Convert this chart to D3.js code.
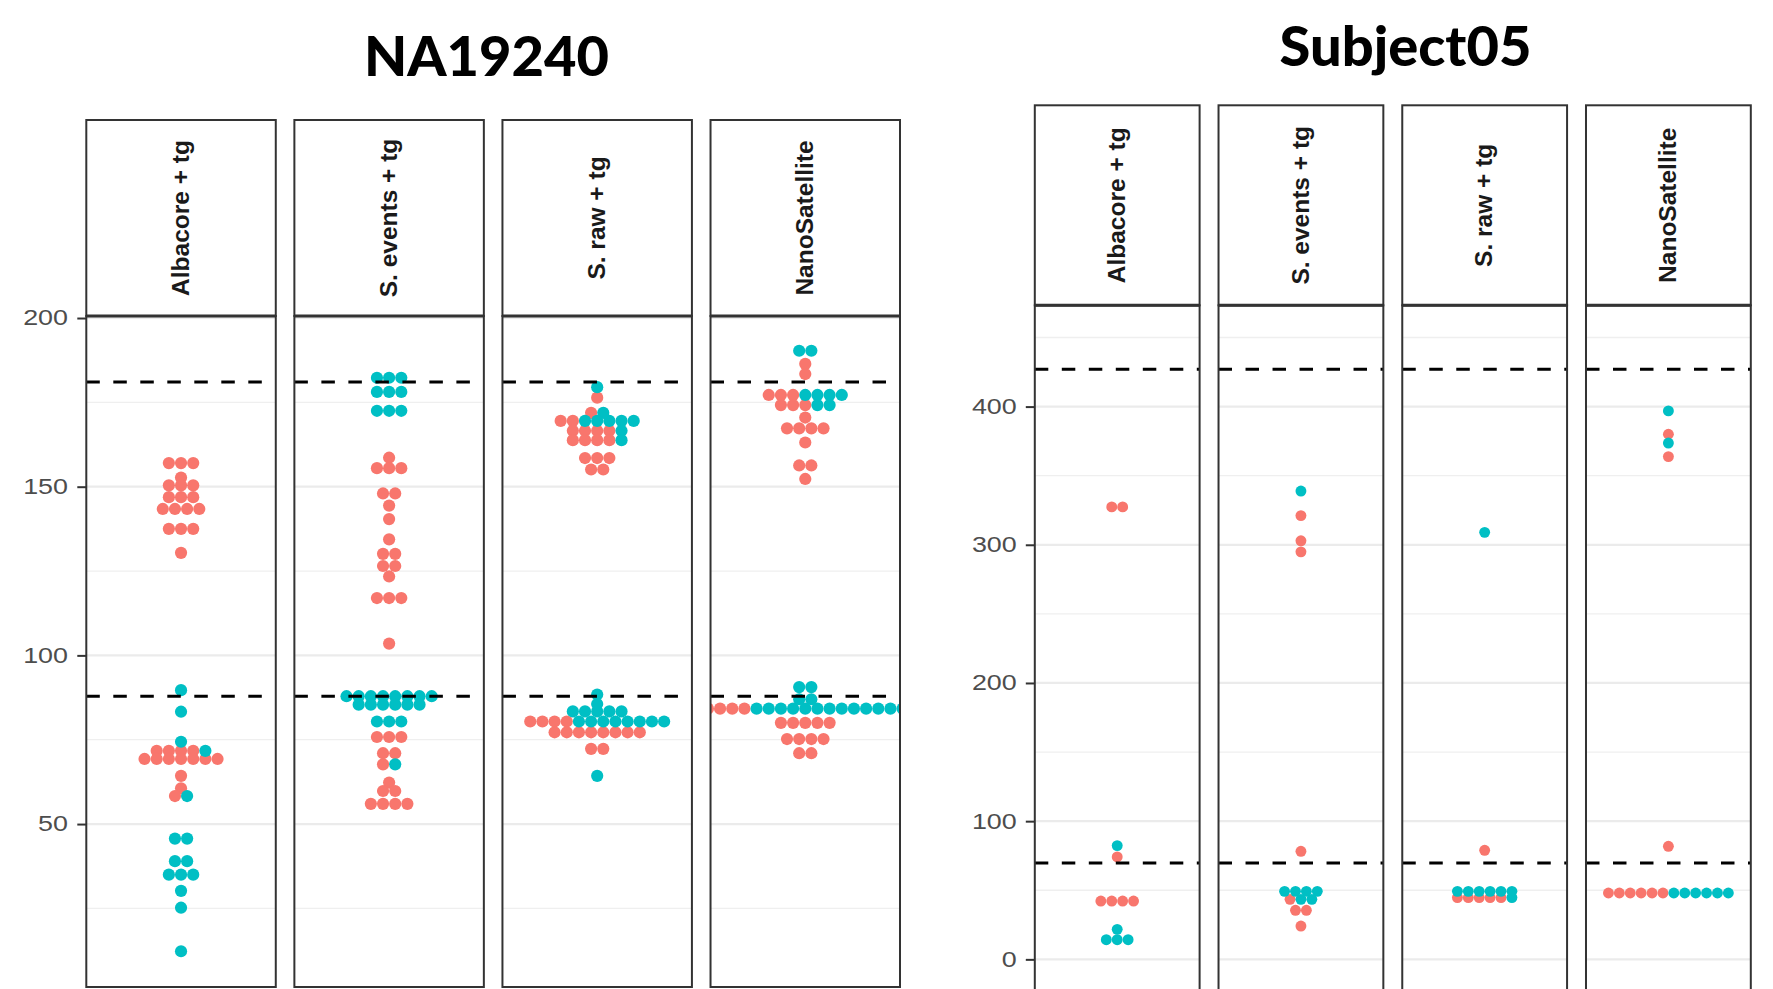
<!DOCTYPE html>
<html>
<head>
<meta charset="utf-8">
<script src="https://cdn.jsdelivr.net/npm/d3@7"></script>
<style>
  body { margin: 0; background: #fff; }
  svg { display: block; }
</style>
</head>
<body>
<svg id="chart" width="1773" height="989"></svg>
<script>
// Facet labels (genotyping method)
const methods = ["Albacore + tg", "S. events + tg", "S. raw + tg", "NanoSatellite"];

// Sample titles
const sampleNames = ["NA19240", "Subject05"];

// NA19240: repeat counts per read, split by allele (red = allele 1, teal = allele 2)
const naAllele1 = [
  [157, 157, 157, 152.7, 150.4, 150.4, 150.4, 146.9, 146.9, 146.9, 143.4, 143.4, 143.4, 143.4,
   137.5, 137.5, 137.5, 130.4, 71.7, 71.7, 71.7, 71.7, 69.3, 69.3, 69.3, 69.3, 69.3, 69.3, 69.3,
   64.3, 60.6, 58.3],
  [158.6, 155.5, 155.5, 155.5, 148, 148, 144.4, 140.4, 134.4, 130.1, 130.1, 126.5, 126.5, 123.4,
   117, 117, 117, 103.5, 75.8, 75.8, 75.8, 71, 71, 67.7, 62.3, 59.8, 59.8, 56, 56, 56, 56],
  [176.4, 171.9, 169.5, 169.5, 166.6, 166.6, 166.6, 166.6, 163.8, 163.8, 163.8, 163.8,
   158.5, 158.5, 158.5, 155.1, 155.1, 80.4, 80.4, 80.4, 80.4,
   77.2, 77.2, 77.2, 77.2, 77.2, 77.2, 77.2, 77.2, 72.3, 72.3],
  [186.4, 183.4, 177.2, 177.2, 177.2, 174.2, 174.2, 174.2, 170.5, 167.3, 167.3, 167.3, 167.3,
   163.1, 156.3, 156.3, 152.3, 84.2, 84.2, 84.2, 84.2, 80, 80, 80, 80, 80,
   75.2, 75.2, 75.2, 75.2, 71, 71]
];
const naAllele2 = [
  [89.7, 83.3, 74.4, 71.7, 58.3, 45.7, 45.7, 39, 39, 35, 35, 35, 30.2, 25.2, 12.3],
  [182.3, 182.3, 182.3, 178.1, 178.1, 178.1, 172.5, 172.5, 172.5,
   87.9, 87.9, 87.9, 87.9, 87.9, 87.9, 87.9, 87.9, 85.4, 85.4, 85.4, 85.4, 85.4, 85.4,
   80.4, 80.4, 80.4, 67.7],
  [179.5, 171.9, 169.5, 169.5, 169.5, 169.5, 169.5, 166.6, 163.8, 88.4, 85.6,
   83.4, 83.4, 83.4, 83.4, 83.4, 80.4, 80.4, 80.4, 80.4, 80.4, 80.4, 80.4, 80.4, 64.3],
  [190.3, 190.3, 177.2, 177.2, 177.2, 177.2, 174.2, 174.2, 90.6, 90.6, 87, 87,
   84.2, 84.2, 84.2, 84.2, 84.2, 84.2, 84.2, 84.2, 84.2, 84.2, 84.2, 84.2, 84.2]
];
const naExpected = [181, 87.9];
const naTicks = [50, 100, 150, 200];
const naMinorTicks = [25, 75, 125, 175];

// Subject05
const s5Allele1 = [
  [327.4, 327.4, 74.1, 42.2, 42.2, 42.2, 42.2],
  [321.1, 302.9, 294.9, 78.2, 43.4, 35.5, 35.5, 24.1],
  [78.9, 44.7, 44.7, 44.7, 44.7, 44.7],
  [380, 363.8, 81.8, 48, 48, 48, 48, 48, 48]
];
const s5Allele2 = [
  [82.3, 21.7, 14.2, 14.2, 14.2],
  [338.9, 49.2, 49.2, 49.2, 49.2, 43.4, 43.4],
  [309, 49.2, 49.2, 49.2, 49.2, 49.2, 49.2, 44.7],
  [396.9, 373.6, 48, 48, 48, 48, 48, 48]
];
const s5Expected = [427, 69.8];
const s5Ticks = [0, 100, 200, 300, 400];
const s5MinorTicks = [50, 150, 250, 350, 450];

const alleleColors = ["#F8766D", "#00BFC4"];

const svg = d3.select("#chart");

function drawSample(cfg) {
  const g = svg.append("g");

  // Title
  g.append("text")
    .attr("x", cfg.titleX).attr("y", cfg.titleY)
    .attr("text-anchor", "middle")
    .style("font-family", "Lato, 'Open Sans', sans-serif")
    .style("font-weight", 900)
    .style("font-size", "56px")
    .attr("fill", "#000")
    .text(cfg.title);

  const x = d3.scaleBand().domain(methods).range(cfg.xRange)
    .paddingInner(cfg.padInner).paddingOuter(0);
  const y = d3.scaleLinear().domain(cfg.domain).range([cfg.panelY[1], cfg.panelY[0]]);
  const bw = x.bandwidth();

  methods.forEach((m, i) => {
    const x0 = x(m);
    const cx = x0 + bw / 2;
    const clipId = `clip-${cfg.id}-${i}`;
    g.append("clipPath").attr("id", clipId)
      .append("rect")
      .attr("x", x0).attr("y", cfg.panelY[0])
      .attr("width", bw).attr("height", cfg.panelY[1] - cfg.panelY[0]);

    const panel = g.append("g").attr("clip-path", `url(#${clipId})`);

    // Grid
    panel.selectAll("line.minor").data(cfg.minor).join("line")
      .attr("x1", x0).attr("x2", x0 + bw)
      .attr("y1", d => y(d)).attr("y2", d => y(d))
      .attr("stroke", "#efefef").attr("stroke-width", 1.3);
    panel.selectAll("line.major").data(cfg.ticks).join("line")
      .attr("x1", x0).attr("x2", x0 + bw)
      .attr("y1", d => y(d)).attr("y2", d => y(d))
      .attr("stroke", "#ebebeb").attr("stroke-width", 2.2);

    // Dots: values sharing a repeat count form one centred row
    const pts = [];
    cfg.a1[i].forEach(v => pts.push({ v, k: 0 }));
    cfg.a2[i].forEach(v => pts.push({ v, k: 1 }));
    const rows = d3.group(pts, d => d.v);
    rows.forEach(row => {
      const n = row.length;
      row.forEach((p, j) => { p.dx = (j - (n - 1) / 2) * cfg.spacing; });
    });
    panel.selectAll("circle").data(pts).join("circle")
      .attr("cx", d => cx + d.dx)
      .attr("cy", d => y(d.v))
      .attr("r", cfg.r)
      .attr("fill", d => alleleColors[d.k]);

    // Expected repeat lengths
    panel.selectAll("line.expected").data(cfg.expected).join("line")
      .attr("x1", x0).attr("x2", x0 + bw)
      .attr("y1", d => y(d)).attr("y2", d => y(d))
      .attr("stroke", "#000").attr("stroke-width", 3)
      .attr("stroke-dasharray", "13.5,13.5");

    // Panel border
    g.append("rect")
      .attr("x", x0).attr("y", cfg.panelY[0])
      .attr("width", bw).attr("height", cfg.panelY[1] - cfg.panelY[0])
      .attr("fill", "none").attr("stroke", "#333").attr("stroke-width", 2);

    // Strip
    g.append("rect")
      .attr("x", x0).attr("y", cfg.stripY[0])
      .attr("width", bw).attr("height", cfg.stripY[1] - cfg.stripY[0])
      .attr("fill", "#fff").attr("stroke", "#333").attr("stroke-width", 2);
    g.append("line")
      .attr("x1", x0).attr("x2", x0 + bw)
      .attr("y1", cfg.stripY[1]).attr("y2", cfg.stripY[1])
      .attr("stroke", "#333").attr("stroke-width", 3);
    const sy = (cfg.stripY[0] + cfg.stripY[1]) / 2;
    g.append("text")
      .attr("transform", `translate(${cx},${sy}) rotate(-90)`)
      .attr("text-anchor", "middle")
      .attr("dy", "0.31em")
      .style("font-family", "'Liberation Sans', Arial, sans-serif")
      .style("font-weight", 700)
      .style("font-size", "24.5px")
      .attr("fill", "#1a1a1a")
      .text(m);
  });

  // Y axis
  const axis = g.append("g")
    .attr("transform", `translate(${cfg.xRange[0]},0)`)
    .call(d3.axisLeft(y).tickValues(cfg.ticks).tickSize(9).tickPadding(0).tickFormat(d3.format("d")));
  axis.select(".domain").remove();
  axis.selectAll(".tick line").attr("stroke", "#333").attr("stroke-width", 2);
  axis.selectAll(".tick text")
    .attr("x", -cfg.labelGap / 1.25)
    .attr("transform", "scale(1.25,1)")
    .style("font-family", "'Liberation Sans', Arial, sans-serif")
    .style("font-size", "21.5px")
    .attr("fill", "#4d4d4d");
}

drawSample({
  id: "na", title: sampleNames[0], titleX: 486.5, titleY: 76,
  a1: naAllele1, a2: naAllele2, expected: naExpected,
  ticks: naTicks, minor: naMinorTicks,
  domain: [1.7, 200.6],
  xRange: [86.3, 900], padInner: 0.0894,
  stripY: [120, 316], panelY: [316, 987],
  r: 6.1, spacing: 12.17, labelGap: 18.3
});

drawSample({
  id: "s5", title: sampleNames[1], titleX: 1405.5, titleY: 65.5,
  a1: s5Allele1, a2: s5Allele2, expected: s5Expected,
  ticks: s5Ticks, minor: s5MinorTicks,
  domain: [-25.8, 473.3],
  xRange: [1034.8, 1750.8], padInner: 0.103,
  stripY: [105.3, 305.3], panelY: [305.3, 995],
  r: 5.45, spacing: 10.9, labelGap: 18.1
});
</script>
</body>
</html>
